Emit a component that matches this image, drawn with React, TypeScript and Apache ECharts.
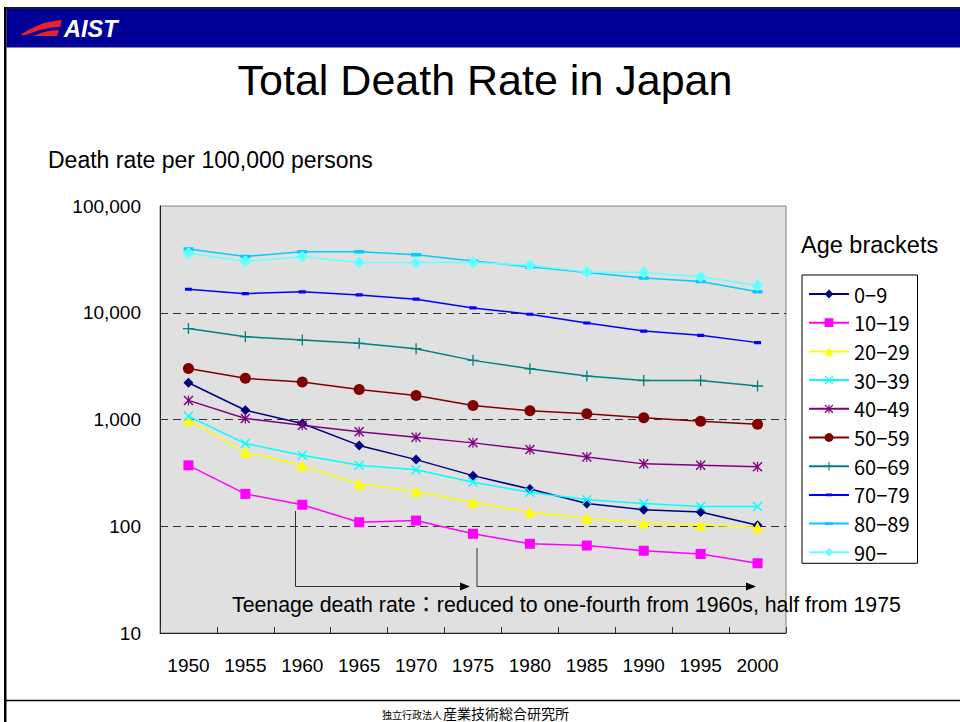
import React, { useEffect, useRef } from "react";
import * as echarts from "echarts";

// Census years on the horizontal axis
const years = ["1950", "1955", "1960", "1965", "1970", "1975", "1980", "1985", "1990", "1995", "2000"];

// Deaths per 100,000 persons, by age bracket
const age0to9 = [2210, 1220, 916, 572, 421, 298, 223, 163, 143, 136, 102];
const age10to19 = [372, 201, 159, 109, 113, 85, 68.5, 66, 59, 55, 45];
const age20to29 = [985, 493, 370, 249, 212, 167, 135, 119, 107, 103, 98];
const age30to39 = [1075, 595, 462, 372, 339, 258, 208, 177, 163, 153, 153];
const age40to49 = [1510, 1020, 885, 766, 682, 604, 523, 446, 384, 372, 360];
const age50to59 = [3010, 2430, 2240, 1910, 1680, 1350, 1210, 1130, 1040, 964, 904];
const age60to69 = [7110, 5970, 5550, 5170, 4610, 3580, 2990, 2550, 2320, 2320, 2060];
const age70to79 = [16600, 15100, 15700, 14700, 13400, 11100, 9680, 8020, 6740, 6150, 5250];
const age80to89 = [39500, 33700, 37200, 37200, 34900, 30500, 26900, 23800, 21200, 19600, 15700];
const age90plus = [36000, 30300, 33400, 29600, 29600, 29600, 27900, 24100, 23800, 21700, 18000];

const bracketNames = ["0−9", "10−19", "20−29", "30−39", "40−49", "50−59", "60−69", "70−79", "80−89", "90−"];

// Marker shapes (filled outlines inside a 10x10 box)
const crossMark = "path://M0,1L1,0L5,4L9,0L10,1L6,5L10,9L9,10L5,6L1,10L0,9L4,5Z";
const starMark = "path://M0,1L1,0L5,4L9,0L10,1L6,5L10,9L9,10L5,6L1,10L0,9L4,5ZM4.4,0H5.6V10H4.4Z";
const plusMark = "path://M4.4,0H5.6V4.4H10V5.6H5.6V10H4.4V5.6H0V4.4H4.4Z";
const shortDash = "path://M0,0L0.01,0M10,10L9.99,10M1.5,3.4H8.5V6.6H1.5Z";
const longDash = "path://M0,0L0.01,0M10,10L9.99,10M0.5,3.4H9.5V6.6H0.5Z";

const SANS = "'Liberation Sans', Arial, 'Noto Sans CJK JP', sans-serif";
const CJK = "'Noto Sans CJK JP', 'Liberation Sans', sans-serif";

// AIST wing mark
echarts.graphic.registerShape(
  "logo",
  echarts.graphic.extendPath(
    "M0,16C10,10 22,2 42,1L40,8C30,8 18,11 6,16ZM13,17C22,13 30,11 39,11L37,17Z",
    {}
  )
);

export default function App() {
  const ref = useRef<HTMLDivElement>(null);

  useEffect(() => {
    if (!ref.current) return;
    const chart = echarts.init(ref.current, null, { renderer: "svg" });

    const seriesDefs = [
      { data: age0to9, color: "#000080", symbol: "diamond", size: 10 },
      { data: age10to19, color: "#FF00FF", symbol: "rect", size: 10 },
      { data: age20to29, color: "#FFFF00", symbol: "triangle", size: 11 },
      { data: age30to39, color: "#00FFFF", symbol: crossMark, size: 10 },
      { data: age40to49, color: "#800080", symbol: starMark, size: 10 },
      { data: age50to59, color: "#800000", symbol: "circle", size: 11 },
      { data: age60to69, color: "#008080", symbol: plusMark, size: 11 },
      { data: age70to79, color: "#0000FF", symbol: shortDash, size: 10 },
      { data: age80to89, color: "#00CCFF", symbol: longDash, size: 11 },
      { data: age90plus, color: "#66FFFF", symbol: "diamond", size: 12 },
    ];

    const arrowColor = "#333333";

    chart.setOption({
      animation: false,
      grid: {
        left: 160,
        top: 206,
        width: 626,
        height: 427,
        show: true,
        backgroundColor: "#E0E0E0",
        borderColor: "#808080",
        borderWidth: 1,
      },
      xAxis: {
        type: "category",
        data: years,
        boundaryGap: true,
        axisLine: { show: true, lineStyle: { color: "#222", width: 1 } },
        axisTick: { show: true, inside: true, length: 6, lineStyle: { color: "#333" } },
        axisLabel: { fontSize: 19, fontFamily: SANS, color: "#000", margin: 23 },
        splitLine: { show: false },
      },
      yAxis: {
        type: "log",
        logBase: 10,
        min: 10,
        max: 100000,
        axisLine: { show: true, lineStyle: { color: "#222", width: 1 } },
        axisTick: { show: false },
        axisLabel: {
          fontSize: 19,
          fontFamily: SANS,
          color: "#000",
          margin: 19,
          formatter: (v: number) => Math.round(v).toLocaleString("en-US"),
        },
        splitLine: {
          show: true,
          showMinLine: false,
          showMaxLine: false,
          lineStyle: { color: "#333", type: [8, 5], width: 1 },
        },
      },
      legend: {
        orient: "vertical",
        left: 802,
        top: 275,
        itemWidth: 40,
        itemHeight: 11,
        itemGap: 8.7,
        padding: [9, 8, 1, 6],
        borderColor: "#000",
        borderWidth: 1,
        backgroundColor: "#fff",
        data: bracketNames,
        textStyle: { fontSize: 20, lineHeight: 20, fontFamily: CJK, color: "#000" },
      },
      series: seriesDefs.map((s, i) => ({
        name: bracketNames[i],
        type: "line",
        data: s.data,
        symbol: s.symbol,
        symbolSize: s.size,
        showSymbol: true,
        lineStyle: { width: 1.5, color: s.color },
        itemStyle: { color: s.color, borderWidth: 0 },
        emphasis: { disabled: true },
        silent: true,
      })),
      graphic: {
        elements: [
          // slide frame and header band
          { type: "rect", z: 100, shape: { x: 4, y: 7, width: 956, height: 2 }, style: { fill: "#1a1a33" } },
          { type: "rect", z: 100, shape: { x: 6.5, y: 9, width: 953.5, height: 38.5 }, style: { fill: "#000099" } },
          { type: "rect", z: 100, shape: { x: 4, y: 7, width: 2.5, height: 715 }, style: { fill: "#000" } },
          { type: "line", z: 100, shape: { x1: 5, y1: 700.5, x2: 960, y2: 700.5 }, style: { stroke: "#000", lineWidth: 1.5 } },
          { type: "logo", z: 101, x: 20, y: 19, scaleX: 1, scaleY: 1, style: { fill: "#E8212E" } },
          {
            type: "text", z: 101, x: 64, y: 29,
            style: { text: "AIST", fill: "#fff", font: "italic bold 23.5px " + SANS, textVerticalAlign: "middle" },
          },
          // titles
          {
            type: "text", z: 100, x: 485, y: 80,
            style: { text: "Total Death Rate in Japan", fill: "#000", font: "43px " + SANS, textAlign: "center", textVerticalAlign: "middle" },
          },
          {
            type: "text", z: 100, x: 48, y: 160,
            style: { text: "Death rate per 100,000 persons", fill: "#000", font: "23px " + SANS, textVerticalAlign: "middle" },
          },
          {
            type: "text", z: 100, x: 801, y: 245,
            style: { text: "Age brackets", fill: "#000", font: "23.5px " + SANS, textVerticalAlign: "middle" },
          },
          // teenage annotation arrows
          {
            type: "polyline", z: 100,
            shape: { points: [[295.5, 511], [295.5, 586.5], [462, 586.5]] },
            style: { stroke: arrowColor, lineWidth: 1, fill: "none" },
          },
          {
            type: "polygon", z: 100,
            shape: { points: [[460, 582.5], [470, 586.5], [460, 590.5]] },
            style: { fill: "#000" },
          },
          {
            type: "polyline", z: 100,
            shape: { points: [[477, 548], [477, 586.5], [748, 586.5]] },
            style: { stroke: arrowColor, lineWidth: 1, fill: "none" },
          },
          {
            type: "polygon", z: 100,
            shape: { points: [[746, 582.5], [756, 586.5], [746, 590.5]] },
            style: { fill: "#000" },
          },
          {
            type: "text", z: 100, x: 232, y: 605,
            style: {
              text: "Teenage death rate：reduced to one-fourth from 1960s, half from 1975",
              fill: "#000", font: "21.3px " + SANS, textVerticalAlign: "middle",
            },
          },
          // footer
          {
            type: "text", z: 100, x: 442, y: 714,
            style: { text: "独立行政法人", fill: "#000", font: "10px " + CJK, textAlign: "right", textVerticalAlign: "middle" },
          },
          {
            type: "text", z: 100, x: 443, y: 712.5,
            style: { text: "産業技術総合研究所", fill: "#000", font: "14px " + CJK, textVerticalAlign: "middle" },
          },
        ],
      },
    });

    return () => chart.dispose();
  }, []);

  return (
    <div
      ref={ref}
      style={{ position: "fixed", left: 0, top: 0, width: 960, height: 722, background: "#fff" }}
    />
  );
}
